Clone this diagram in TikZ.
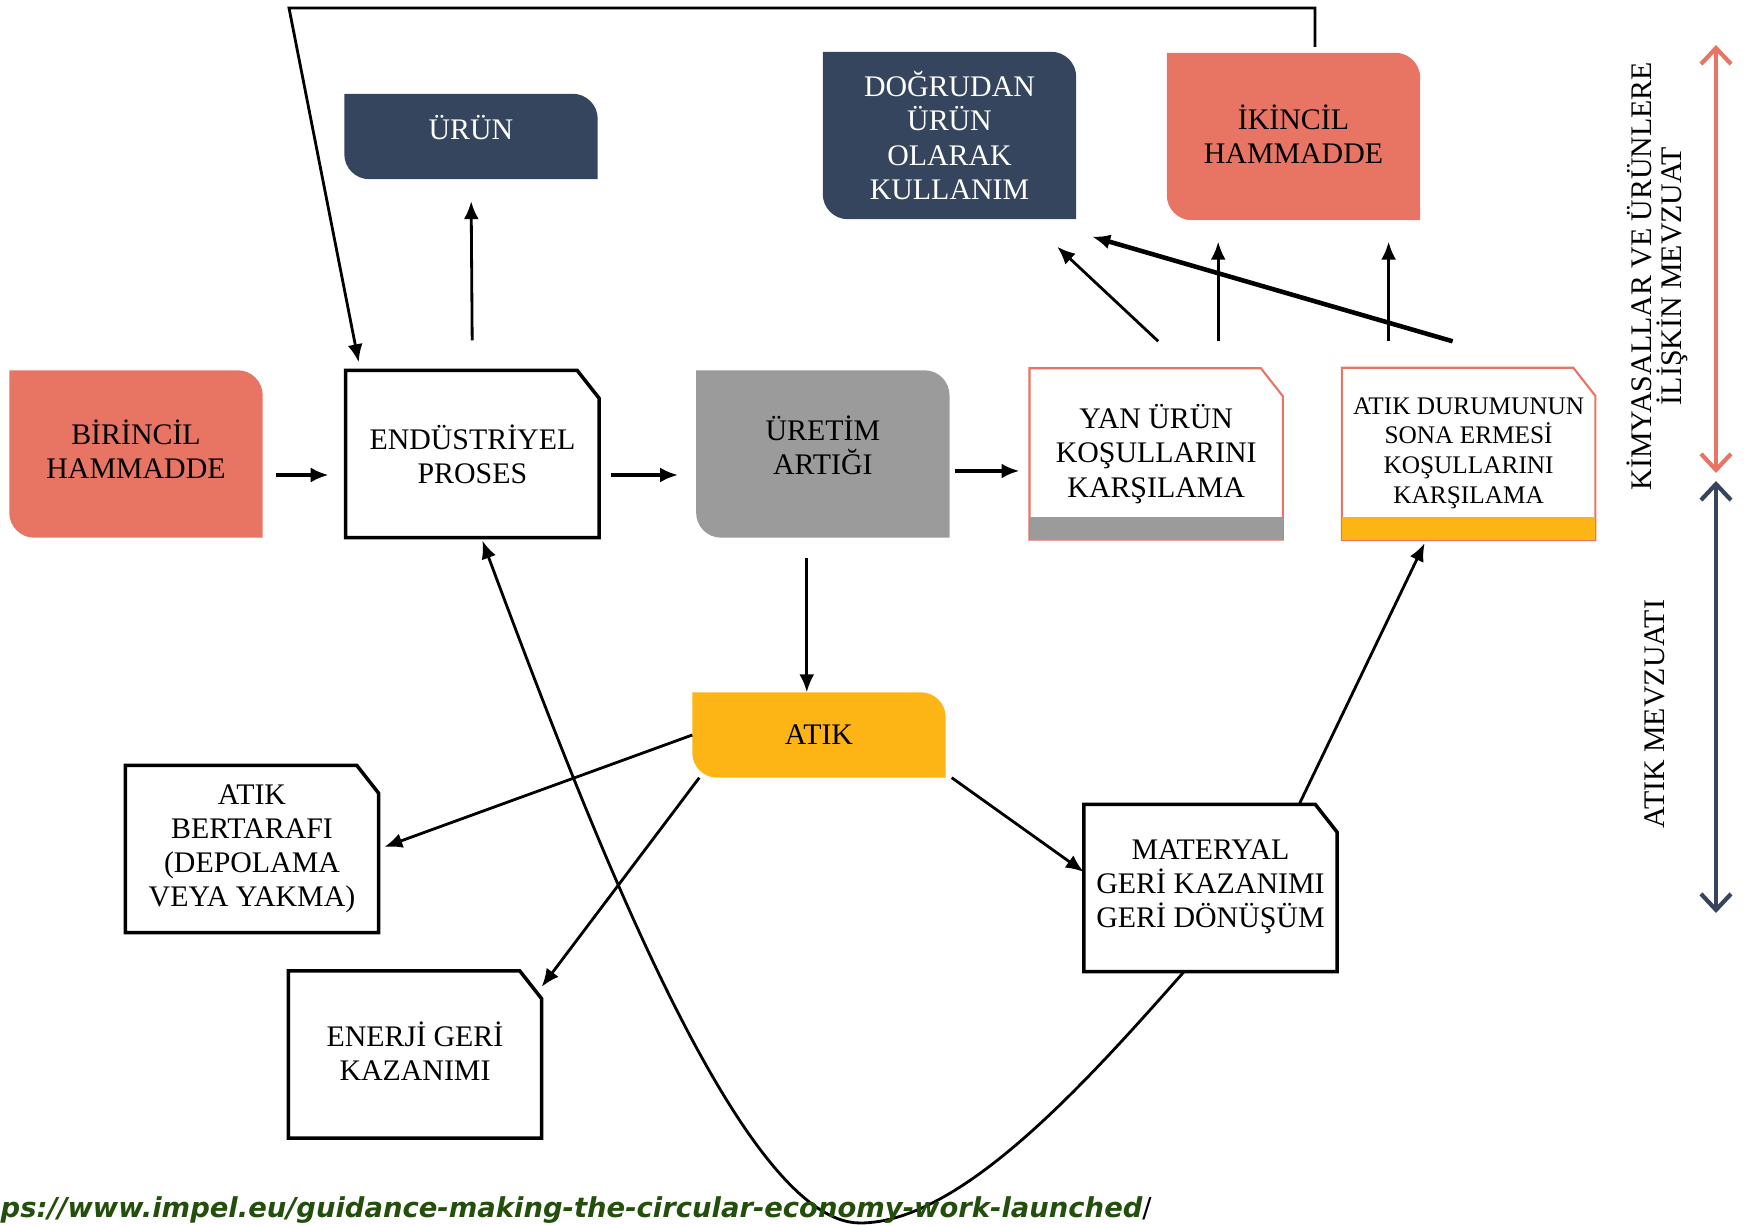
\documentclass[tikz,border=0pt]{standalone}
\usepackage{fontspec}
\setmainfont{Liberation Serif}
\newfontfamily\urlfont{DejaVu Sans}
\usetikzlibrary{arrows.meta}
\usetikzlibrary{positioning}
\usetikzlibrary{backgrounds}

\definecolor{somon}{HTML}{E87464}
\definecolor{lacivert}{HTML}{36455E}
\definecolor{gri}{HTML}{9B9B9B}
\definecolor{sari}{HTML}{FDB515}
\definecolor{yesil}{HTML}{234F0C}

\newcommand{\altpay}[1]{\rule[-#1]{0pt}{#1}} % yaziyi biraz yukari iter

\begin{document}
\begin{tikzpicture}[
    kutu/.style={minimum width=2.52cm, minimum height=1.66cm, inner sep=0pt, align=center, font=\fontsize{8.5}{9.7}\selectfont},
    kisa/.style={kutu, minimum height=0.84cm},
    ok/.style={-{Latex[length=1.8mm,width=1.5mm]}, line width=0.8pt},
    kalin/.style={ok, line width=1.3pt},
    cerceve/.style={line width=1pt},
    dikyazi/.style={rotate=90, align=center, inner sep=0pt, font=\fontsize{8.5}{8.6}\selectfont},
    mevzuat/.style={line width=1.2pt, {Straight Barb[length=1.6mm,width=3mm]}-{Straight Barb[length=1.6mm,width=3mm]}},
  ]
    \useasboundingbox (0,0) rectangle (17.46,-12.25);

    \node [kutu] (bir) at (1.36,-4.54) {BİRİNCİL\\HAMMADDE\altpay{0.9mm}};
    \node [kutu, right=0.83cm of bir] (endu) {ENDÜSTRİYEL\\PROSES};
    \node [kutu, right=0.97cm of endu] (uret) {ÜRETİM\\ARTIĞI\altpay{1.8mm}};
    \node [kutu, minimum height=1.70cm, right=0.80cm of uret] (yan) {YAN ÜRÜN\\KOŞULLARINI\\KARŞILAMA\altpay{0.6mm}};
    \node [kutu, minimum height=1.71cm, right=0.59cm of yan, font=\fontsize{7.2}{8.5}\selectfont] (sona) {ATIK DURUMUNUN\\SONA ERMESİ\\KOŞULLARINI\\KARŞILAMA\altpay{0.7mm}};

    \node [kisa, text=white] (urun) at (4.71,-1.365) {ÜRÜN\altpay{1.8mm}};
    \node [kutu, text=white] (dogru) at (9.495,-1.355) {DOĞRUDAN\\ÜRÜN\\OLARAK\\KULLANIM};
    \node [kutu] (ikin) at (12.935,-1.365) {İKİNCİL\\HAMMADDE\altpay{0.4mm}};

    \node [kisa] (atik) at (8.19,-7.35) {ATIK};
    \node [kutu] (bert) at (2.52,-8.49) {ATIK\\BERTARAFI\\(DEPOLAMA\\VEYA YAKMA)};
    \node [kutu] (ener) at (4.15,-10.545) {ENERJİ GERİ\\KAZANIMI\altpay{0.6mm}};
    \node [kutu] (mat) at (12.105,-8.88) {MATERYAL\\GERİ KAZANIMI\\GERİ DÖNÜŞÜM\altpay{0.8mm}};

    \begin{scope}[on background layer]
      \foreach \n/\c in {bir/somon, urun/lacivert, dogru/lacivert, ikin/somon, uret/gri, atik/sari}
        \fill [\c] (\n.north west) -- ([xshift=-2.5mm]\n.north east) arc [start angle=90, end angle=0, radius=2.5mm]
          -- (\n.south east) -- ([xshift=2.5mm]\n.south west) arc [start angle=270, end angle=180, radius=2.5mm] -- cycle;
      \foreach \n in {endu, bert, ener, mat}
        \draw [cerceve] (\n.north west) -- ([xshift=-2.2mm]\n.north east) -- ([yshift=-2.8mm]\n.north east)
          -- (\n.south east) -- (\n.south west) -- cycle;
      \foreach \n/\c in {yan/gri, sona/sari} {
        \draw [somon, line width=0.6pt] (\n.north west) -- ([xshift=-2.2mm]\n.north east) -- ([yshift=-2.8mm]\n.north east)
          -- (\n.south east) -- (\n.south west) -- cycle;
        \fill [\c] (\n.south west) rectangle ([yshift=2.3mm]\n.south east);
      }
    \end{scope}

    \coordinate (ust) at (2.89,-0.08);
    \coordinate (dip) at (8.60,-12.23);

    \draw [kalin, shorten <=1.3mm, shorten >=1.7mm] ([yshift=-2.1mm]bir.east) -- ([yshift=-2.1mm]endu.west);
    \draw [kalin, shorten <=1.2mm, shorten >=1.8mm] ([yshift=-2.1mm]endu.east) -- ([yshift=-2.1mm]uret.west);
    \draw [kalin, shorten <=0.5mm, shorten >=1mm] ([yshift=-1.7mm]uret.east) -- ([yshift=-1.7mm]yan.west);
    \draw [ok, shorten <=3mm, shorten >=2.2mm] (endu.north) -- (urun.south);
    \draw [ok, shorten <=0.6mm] ([xshift=2.15mm]ikin.north) |- (ust) -- ([xshift=1.3mm,yshift=0.8mm]endu.north west);

    \coordinate (ua) at ([xshift=-1.6mm]uret.south);
    \draw [ok, shorten <=2mm] (ua) -- (ua |- atik.north);
    \draw [ok, shorten >=0.6mm] (atik.west) -- (bert.east);
    \draw [ok] ([xshift=0.7mm]atik.south west) -- ([yshift=-1.6mm]ener.north east);
    \draw [ok] ([xshift=0.6mm]atik.south east) -- ([yshift=1.6mm]mat.west);
    \draw [ok] ([xshift=-3.8mm]mat.north east) -- ([xshift=-4.4mm,yshift=-0.3mm]sona.south);
    \draw [ok] ([xshift=-2.65mm]mat.south) .. controls (10.85,-10.84) and (9.60,-12.23) .. (dip)
      .. controls (7.40,-12.23) and (5.87,-8.21) .. ([xshift=1mm,yshift=-0.3mm]endu.south); % geri donus egrisi

    \draw [ok] ([xshift=0.2mm,yshift=2.7mm]yan.north) -- ([xshift=-1.9mm,yshift=-2.75mm]dogru.south east);
    \coordinate (y1) at ([xshift=6.2mm,yshift=2.7mm]yan.north);
    \draw [ok, shorten >=2.15mm] (y1) -- (y1 |- ikin.south);
    \coordinate (s1) at ([xshift=-8mm,yshift=2.65mm]sona.north);
    \draw [ok, shorten >=2.15mm] (s1) -- (s1 |- ikin.south);
    \draw [kalin] ([xshift=-1.6mm,yshift=2.65mm]sona.north) -- ([xshift=1.6mm,yshift=-1.75mm]dogru.south east);

    \coordinate (kust) at (17.16,-0.45);
    \coordinate (kalt) at (17.16,-4.73);
    \coordinate (aust) at (17.16,-4.81);
    \coordinate (aalt) at (17.16,-9.13);
    \draw [mevzuat, somon] (kust) -- (kalt);
    \draw [mevzuat, lacivert] (aust) -- (aalt);
    \node [dikyazi] (kmev) at (16.57,-2.76) {KİMYASALLAR VE ÜRÜNLERE\\İLİŞKİN MEVZUAT};
    \node [dikyazi] (amev) at (16.55,-7.14) {ATIK MEVZUATI};

    \node [anchor=base west, inner sep=0pt, text=yesil, font=\urlfont\bfseries\itshape\fontsize{7.8}{9}\selectfont] (kaynak) at (0,-12.17)
      {ps://www.impel.eu/guidance-making-the-circular-economy-work-launched{\normalfont\urlfont\color{black}/}};
  \end{tikzpicture}
\end{document}
